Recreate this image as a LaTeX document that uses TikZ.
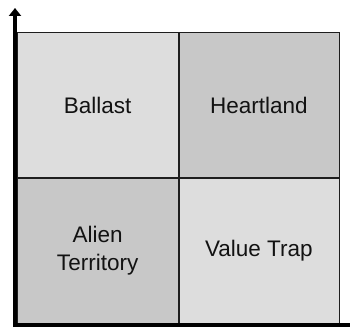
\documentclass[tikz,border=0pt]{standalone}
\usepackage{fontspec}
\setmainfont{Liberation Sans}
\usetikzlibrary{arrows.meta}
\definecolor{cellLight}{RGB}{221,221,221}
\definecolor{cellDark}{RGB}{200,200,200}
\definecolor{gridLine}{RGB}{30,30,30}
\begin{document}
\begin{tikzpicture}[x=1pt,y=1pt,
  cell/.style={draw=gridLine, line width=1pt, minimum width=161.25pt, minimum height=145pt,
    inner sep=0pt, align=center, font=\fontsize{22.5}{28}\selectfont, text=black!93},
  light/.style={cell, fill=cellLight},
  dark/.style={cell, fill=cellDark},
  divider/.style={draw=gridLine, line width=2pt},
  axis/.style={draw=black, line width=4pt}]
\useasboundingbox (0,0) rectangle (350,332);
\node[light] (ballast) at (97.625,226.5) {Ballast};
\node[dark] (heart) at (258.875,226.5) {Heartland};
\node[dark] (alien) at (97.625,81.5) {Alien\\Territory};
\node[light] (trap) at (258.875,81.5) {Value Trap};
\draw[divider] (ballast.north east) -- (alien.south east);
\draw[divider] (ballast.south west) -- (heart.south east);
\coordinate (o) at (15,5);
\coordinate (top) at (15,324);
\coordinate (hs) at (13,7);
\coordinate (he) at (350,7);
\draw[axis] (hs) -- (he);
\draw[axis, -{Triangle[width=12pt,length=8pt]}] (o) -- (top);
\end{tikzpicture}
\end{document}
